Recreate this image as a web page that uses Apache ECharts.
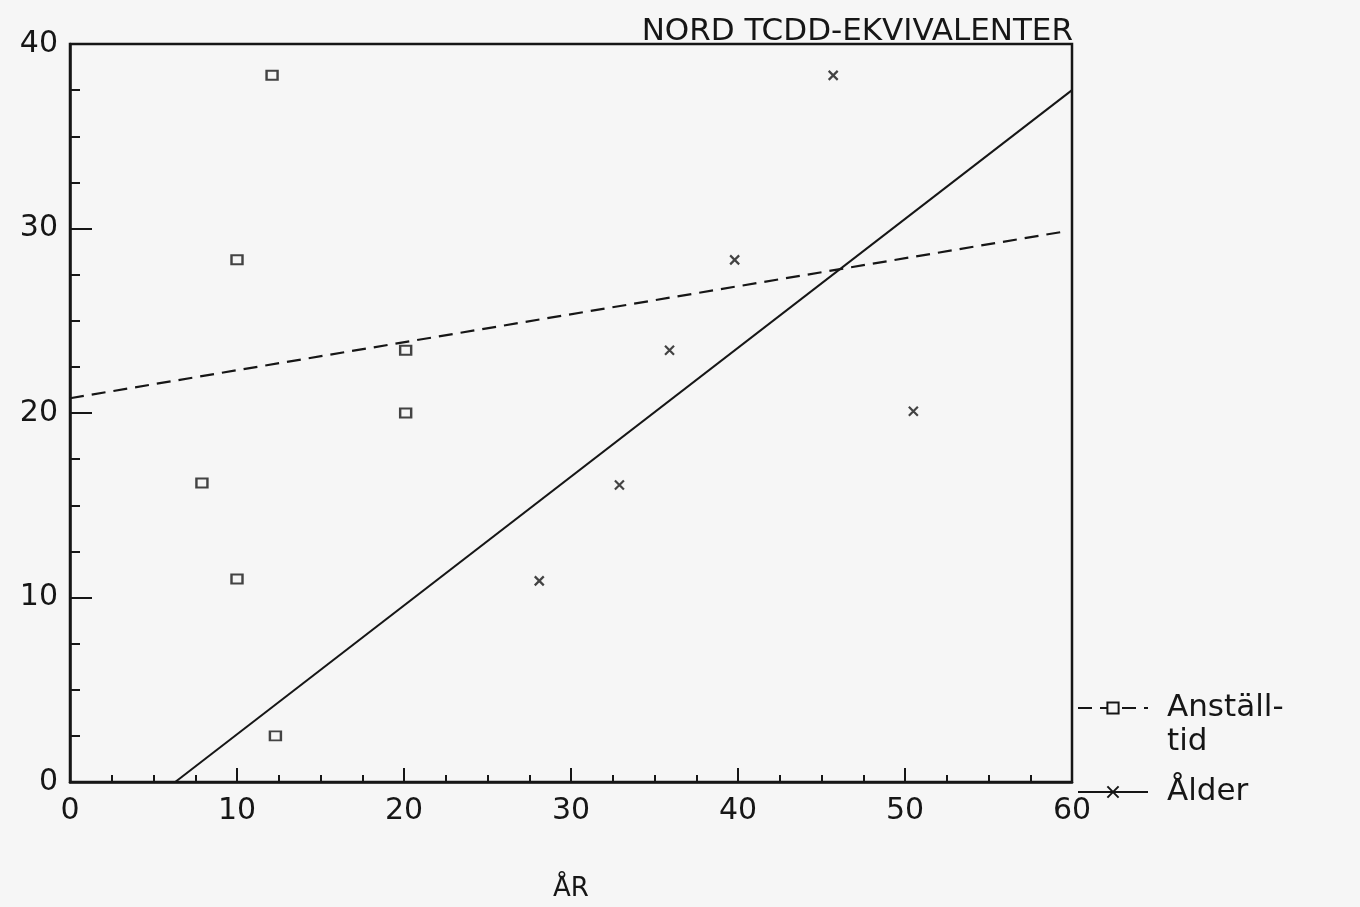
<!DOCTYPE html>
<html>
<head>
<meta charset="utf-8">
<script src="https://cdn.jsdelivr.net/npm/echarts@6/dist/echarts.min.js"></script>
<style>
html,body{margin:0;padding:0;background:#f6f6f6;}
#chart{width:1360px;height:907px;}
</style>
</head>
<body>
<div id="chart"></div>
<script>
// ---- data ----
var titleText = 'NORD TCDD-EKVIVALENTER';
var xAxisName = 'ÅR';
var seriesNames = ['Anställ-\ntid', 'Ålder'];
// Anställningstid (squares): [years, TCDD-eq]
var anstPoints = [[12.1, 38.3], [10.0, 28.3], [20.1, 23.4], [20.1, 20.0], [7.9, 16.2], [10.0, 11.0], [12.3, 2.5]];
// Ålder (crosses): [years, TCDD-eq]
var alderPoints = [[45.7, 38.3], [39.8, 28.3], [35.9, 23.4], [32.9, 16.1], [28.1, 10.9], [50.5, 20.1]];
// regression line end points
var anstTrend = [[0, 20.8], [59.3, 29.8]];
var alderTrend = [[6.3, 0], [60, 37.5]];
var xMin = 0, xMax = 60, xStep = 10;
var yMin = 0, yMax = 40, yStep = 10;

var ink = '#161616';
var font = 'DejaVu Sans';
var crossPath = 'path://M0,0L10,10M10,0L0,10';

var chart = echarts.init(document.getElementById('chart'));
chart.setOption({
  backgroundColor: '#f6f6f6',
  animation: false,
  title: {
    text: titleText,
    right: 282, top: 11,
    textStyle: {fontFamily: font, fontWeight: 'normal', fontSize: 31, color: ink}
  },
  legend: {
    orient: 'vertical',
    left: 1072, top: 652,
    itemWidth: 70, itemHeight: 14, itemGap: 16,
    data: seriesNames,
    formatter: function (name) {
      // multi-line entry: keep first line level with its icon
      return name.indexOf('\n') >= 0 ? ' \n' + name : name;
    },
    textStyle: {fontFamily: font, fontSize: 31, color: ink, lineHeight: 34, padding: [0, 0, 0, 14]}
  },
  grid: {left: 70, right: 288, top: 44, bottom: 121, show: true, borderColor: ink, borderWidth: 2.5, backgroundColor: 'transparent'},
  xAxis: {
    type: 'value', min: xMin, max: xMax, interval: xStep,
    name: xAxisName, nameLocation: 'middle', nameGap: 94,
    nameTextStyle: {fontFamily: font, fontSize: 26, color: ink},
    axisLine: {lineStyle: {color: ink, width: 2.5}},
    axisTick: {inside: true, length: 14, lineStyle: {color: ink, width: 2}},
    minorTick: {show: true, splitNumber: 4, length: 7, lineStyle: {color: ink, width: 2}},
    splitLine: {show: false},
    axisLabel: {fontFamily: font, fontSize: 30, color: ink, margin: 14}
  },
  yAxis: {
    type: 'value', min: yMin, max: yMax, interval: yStep,
    axisLine: {lineStyle: {color: ink, width: 2.5}},
    axisTick: {inside: true, length: 22, lineStyle: {color: ink, width: 2}},
    minorTick: {show: true, splitNumber: 4, length: 10, lineStyle: {color: ink, width: 2}},
    splitLine: {show: false},
    axisLabel: {fontFamily: font, fontSize: 30, color: ink, margin: 12}
  },
  series: [
    {
      name: seriesNames[0], type: 'line', data: anstTrend,
      symbol: 'rect', symbolSize: [11, 8], showSymbol: false,
      itemStyle: {color: '#f6f6f6', borderColor: ink, borderWidth: 2},
      lineStyle: {color: ink, width: 2.2, type: [14, 8]}, z: 2
    },
    {
      name: seriesNames[0], type: 'scatter', data: anstPoints,
      symbol: 'rect', symbolSize: [11, 9],
      itemStyle: {color: 'transparent', borderColor: ink, borderWidth: 2.2}, z: 3
    },
    {
      name: seriesNames[1], type: 'line', data: alderTrend,
      symbol: crossPath, symbolSize: 9, showSymbol: false,
      itemStyle: {color: 'transparent', borderColor: ink, borderWidth: 2},
      lineStyle: {color: ink, width: 2}, z: 2
    },
    {
      name: seriesNames[1], type: 'scatter', data: alderPoints,
      symbol: crossPath, symbolSize: 9,
      itemStyle: {color: 'transparent', borderColor: ink, borderWidth: 2.2}, z: 3
    }
  ]
});
</script>
</body>
</html>
